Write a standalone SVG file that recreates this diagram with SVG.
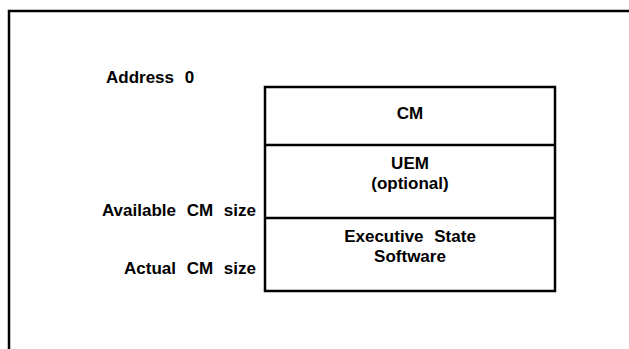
<svg xmlns="http://www.w3.org/2000/svg" width="629" height="349" viewBox="0 0 629 349">
<style>
.t{font-family:"Liberation Sans",Arial,sans-serif;font-weight:bold;font-size:17px;fill:#000;word-spacing:6px}
.c{text-anchor:middle}
.r{text-anchor:end}
.ln{stroke:#000;stroke-width:2.5;fill:none}
</style>
<rect width="629" height="349" fill="#fff"/>
<g id="frame"><path class="ln" d="M9,349 V11 H629"/></g>
<g id="labels">
<text class="t" x="106" y="83">Address 0</text>
<text class="t r" x="256" y="216">Available CM size</text>
<text class="t r" x="256" y="274">Actual CM size</text>
</g>
<g id="box">
<rect class="ln" x="265" y="87" width="290" height="204"/>
</g>
<g id="cm"><text class="t c" x="410" y="119">CM</text></g>
<g id="uem"><line class="ln" x1="265" y1="145" x2="555" y2="145"/><text class="t c" x="410" y="169">UEM</text><text class="t c" x="410" y="189">(optional)</text></g>
<g id="exec"><line class="ln" x1="265" y1="218" x2="555" y2="218"/><text class="t c" x="410" y="242">Executive State</text><text class="t c" x="410" y="262">Software</text></g>
</svg>
